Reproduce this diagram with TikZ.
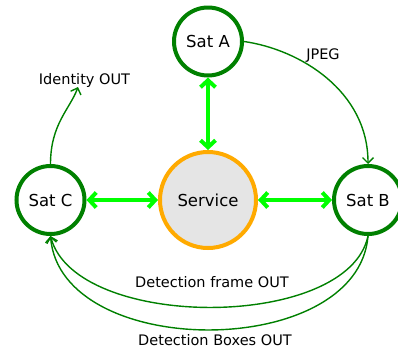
\documentclass[tikz,border=0pt]{standalone}
\usepackage{fontspec}
\setmainfont{DejaVu Sans}
\usetikzlibrary{arrows.meta}
\definecolor{dkgreen}{RGB}{0,128,0}
\definecolor{brgreen}{RGB}{0,255,0}
\definecolor{orng}{RGB}{255,170,0}
\definecolor{svcfill}{RGB}{229,229,229}
\tikzset{
  sat/.style={circle,draw=dkgreen,line width=4pt,fill=white,minimum size=68pt,inner sep=0pt,font=\fontsize{16.5}{19}\selectfont},
  svc/.style={circle,draw=orng,line width=4pt,fill=svcfill,minimum size=96pt,inner sep=0pt,font=\fontsize{16.5}{19}\selectfont},
  link/.style={brgreen,line width=4pt,{Straight Barb[length=7pt,width=15pt]}-{Straight Barb[length=7pt,width=15pt]}},
  flow/.style={dkgreen,line width=1.4pt,-{Straight Barb[length=5.5pt,width=11pt]}},
  lbl/.style={inner sep=0pt,font=\fontsize{14.5}{17}\selectfont}
}
\begin{document}
\begin{tikzpicture}[x=1pt,y=-1pt]
\useasboundingbox (0,0) rectangle (398,354);
\node[svc] (S) at (208,200) {Service};
\node[sat] (A) at (208,41.5) {Sat A};
\node[sat] (B) at (368,200) {Sat B};
\node[sat] (C) at (50.5,200) {Sat C};
\draw[link] (A) -- (S);
\draw[link] (C) -- (S);
\draw[link] (S) -- (B);
\draw[flow] (A.east) .. controls +(56,8) and +(0,-73) .. (B.north);
\node[lbl] (jpeg) at (323,56) {JPEG};
\coordinate (idend) at (78,87);
\draw[flow] (C.north) .. controls +(0,-40) and +(-8,22) .. (idend);
\node[lbl] (id) at (84.5,80) {Identity OUT};
\draw[flow] (B.south) .. controls +(-20,95) and +(25,95) .. (C.south);
\draw[flow] (B.south) .. controls +(-10,125) and +(10,125) .. (C.south);
\node[lbl] (df) at (212,282) {Detection frame OUT};
\node[lbl] (db) at (215,340) {Detection Boxes OUT};
\end{tikzpicture}
\end{document}
